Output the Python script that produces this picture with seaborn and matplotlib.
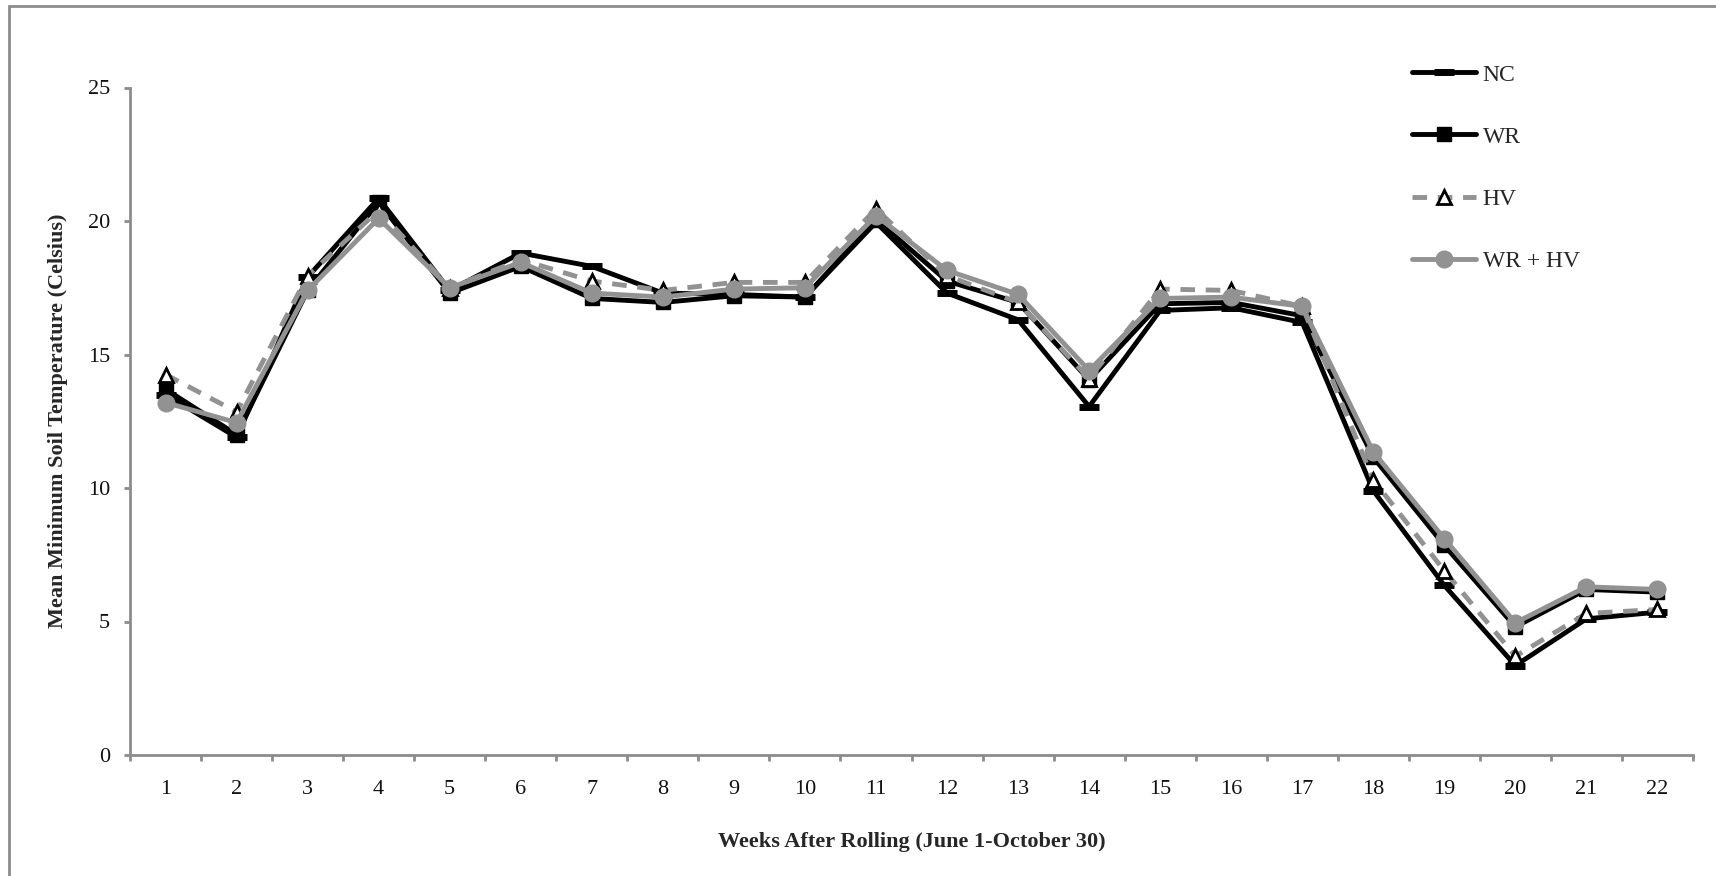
import matplotlib
matplotlib.use("Agg")
import matplotlib.pyplot as plt
from matplotlib.patches import Rectangle
from matplotlib.lines import Line2D
import numpy as np
import pandas as pd
import seaborn as sns

# Weekly mean minimum soil temperature (°C) by treatment
weeks = list(range(1, 23))
nc = [13.5, 11.9, 17.9, 20.85, 17.4, 18.8, 18.3, 17.3, 17.25, 17.15, 19.95,
      17.3, 16.3, 13.05, 16.65, 16.75, 16.2, 9.9, 6.35, 3.35, 5.1, 5.35]
wr = [13.7, 12.0, 17.4, 20.7, 17.3, 18.3, 17.1, 16.95, 17.2, 17.15, 20.05,
      17.75, 16.95, 14.05, 16.9, 16.95, 16.45, 11.15, 7.85, 4.8, 6.2, 6.1]
hv = [14.25, 12.85, 17.95, 20.4, 17.5, 18.55, 17.75, 17.4, 17.7, 17.7, 20.45,
      17.95, 16.95, 14.1, 17.45, 17.4, 16.8, 10.3, 6.9, 3.7, 5.3, 5.45]
wrhv = [13.2, 12.45, 17.4, 20.1, 17.5, 18.45, 17.3, 17.15, 17.45, 17.5, 20.2,
        18.15, 17.25, 14.4, 17.1, 17.15, 16.8, 11.35, 8.1, 4.95, 6.3, 6.2]

series_names = ["NC", "WR", "HV", "WR + HV"]
series_values = [nc, wr, hv, wrhv]

df = pd.DataFrame({
    "week": np.tile(weeks, len(series_names)),
    "temp": np.concatenate(series_values),
    "treatment": np.repeat(series_names, len(weeks)),
})

sns.set_theme(style="white")
plt.rcParams["font.family"] = ["Liberation Serif", "DejaVu Serif"]

W, H = 1716, 876
fig = plt.figure(figsize=(W / 100, H / 100), dpi=100)
ax = fig.add_axes([130 / W, 1 - 755 / H, (1693 - 130) / W, (755 - 87.5) / H])

black = "#000000"
gray = "#929292"
styles = {
    "NC": dict(color=black, linestyle="-", marker="_", markersize=15,
               markeredgewidth=5, markerfacecolor=black, markeredgecolor=black),
    "WR": dict(color=black, linestyle="-", marker="s", markersize=10,
               markerfacecolor=black, markeredgecolor=black, markeredgewidth=1),
    "HV": dict(color=gray, linestyle=(0, (3, 2.2)), marker="^", markersize=10,
               markerfacecolor="white", markeredgecolor=black, markeredgewidth=2),
    "WR + HV": dict(color=gray, linestyle="-", marker="o", markersize=12,
                    markerfacecolor=gray, markeredgecolor=gray, markeredgewidth=1),
}

for name in series_names:
    sub = df[df["treatment"] == name]
    sns.lineplot(data=sub, x="week", y="temp", ax=ax, linewidth=3.5,
                 legend=False, **styles[name])

ax.set_xlim(0.5, 22.5)
ax.set_ylim(0, 25)
ax.set_yticks(range(0, 26, 5))
ax.set_xticks(np.arange(0.5, 23, 1.0))
ax.set_xticklabels([])
ax.set_xticks(weeks, minor=True)
ax.set_xticklabels([str(w) for w in weeks], minor=True)

axis_gray = "#8c8c8c"
for side in ["top", "right"]:
    ax.spines[side].set_visible(False)
for side in ["left", "bottom"]:
    ax.spines[side].set_color(axis_gray)
    ax.spines[side].set_linewidth(2)
ax.tick_params(axis="x", which="major", length=4.5, width=2, color=axis_gray,
               direction="out", bottom=True)
ax.tick_params(axis="x", which="minor", length=0, labelsize=16, pad=18,
               labelcolor="#111111")
ax.tick_params(axis="y", which="major", length=4.5, width=2, color=axis_gray,
               direction="out", left=True, labelsize=16, pad=10,
               labelcolor="#111111")

ax.set_xlabel("Weeks After Rolling (June 1-October 30)", fontsize=16,
              fontweight="bold", labelpad=24)
ax.set_ylabel("Mean Minimum Soil Temperature (Celsius)", fontsize=16,
              fontweight="bold", labelpad=14)
ax.grid(False)

handles = []
for name in series_names:
    st = dict(styles[name])
    handles.append(Line2D([], [], linewidth=3.5, **st))
fig.legend(handles, series_names, loc="upper left",
           bbox_to_anchor=(1412 / W, 1 - 64 / H), bbox_transform=fig.transFigure,
           frameon=False, fontsize=17, handlelength=2.7, handletextpad=0.3,
           labelspacing=1.72, borderpad=0, borderaxespad=0)

# thin gray frame around the figure
fig.patches.append(Rectangle((9 / W, -0.05), 1.2, 1.05 - 6 / H,
                             transform=fig.transFigure, fill=False,
                             edgecolor="#8c8c8c", linewidth=2))

fig.savefig("out.png", dpi=100, facecolor="white")
